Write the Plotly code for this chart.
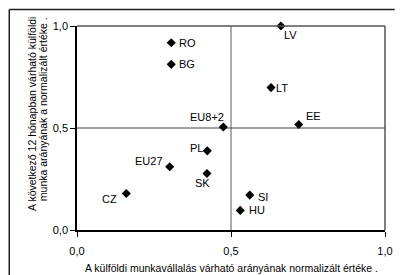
import plotly.graph_objects as go

countries = ["RO", "BG", "LV", "LT", "EE", "EU8+2", "PL", "SK", "EU27", "CZ", "SI", "HU"]
x_vals = [0.306, 0.306, 0.662, 0.630, 0.720, 0.475, 0.423, 0.422, 0.301, 0.160, 0.561, 0.530]
y_vals = [0.918, 0.812, 1.000, 0.698, 0.517, 0.505, 0.388, 0.277, 0.310, 0.179, 0.171, 0.096]
tick_vals = [0.0, 0.5, 1.0]
tick_text = ["0,0", "0,5", "1,0"]
x_title = "A külföldi munkavállalás várható arányának normalizált értéke ."
y_title_1 = "A következő 12 hónapban várható külföldi"
y_title_2 = "munka arányának a normalizált értéke ."

# label placement (style): anchor, x offset px, y offset px (down positive)
label_anchor = ["left", "left", "left", "left", "left", "center", "right", "center",
                "right", "right", "left", "left"]
label_dx = [8, 8, 3, 5, 7, -16, -4, -4, -7, -9, 8.5, 8.5]
label_dy = [0, 0, 8.5, 0, -9, -10, -2.5, 10, -6, 5.5, 1.5, 0]

W, H = 403, 275
L, R, T, B = 77, 10, 25.5, 45
pw, ph = W - L - R, H - T - B

def px_x(p):
    return (p - L) / pw

def px_y(p):
    return (H - B - p) / ph

FONT = "Liberation Sans, Arial, sans-serif"

fig = go.Figure()
fig.add_trace(go.Scatter(
    x=x_vals, y=y_vals, mode="markers",
    marker=dict(symbol="diamond", size=7, color="black"),
    cliponaxis=False, showlegend=False, hoverinfo="skip",
))

shapes = [
    dict(type="line", xref="x", yref="paper", x0=0.5, x1=0.5, y0=0, y1=1,
         line=dict(color="#909090", width=1.5), layer="below"),
    dict(type="line", xref="paper", yref="y", x0=0, x1=1, y0=0.5, y1=0.5,
         line=dict(color="#404040", width=1), layer="below"),
    dict(type="line", xref="paper", yref="paper", x0=0, x1=1, y0=1, y1=1,
         line=dict(color="#555555", width=1.5)),
    dict(type="line", xref="paper", yref="paper", x0=1, x1=1, y0=0, y1=1,
         line=dict(color="#555555", width=1.5)),
    # outer frame (top and left edges)
    dict(type="line", xref="paper", yref="paper", x0=px_x(7.5), x1=px_x(403),
         y0=px_y(9), y1=px_y(9), line=dict(color="#222222", width=1.5)),
    dict(type="line", xref="paper", yref="paper", x0=px_x(7.5), x1=px_x(7.5),
         y0=px_y(9), y1=px_y(275), line=dict(color="#222222", width=1.5)),
]

annotations = [
    dict(text=x_title, xref="paper", yref="paper", x=px_x(235), y=px_y(268),
         showarrow=False, font=dict(family=FONT, size=10.5, color="black"),
         xanchor="center", yanchor="middle"),
    dict(text=y_title_1, xref="paper", yref="paper", x=px_x(31), y=px_y(113.5),
         showarrow=False, textangle=-90, font=dict(family=FONT, size=10.5, color="black"),
         xanchor="center", yanchor="middle"),
    dict(text=y_title_2, xref="paper", yref="paper", x=px_x(41.5), y=px_y(108.5),
         showarrow=False, textangle=-90, font=dict(family=FONT, size=10.5, color="black"),
         xanchor="center", yanchor="middle"),
]
for name, xv, yv, anc, dx, dy in zip(countries, x_vals, y_vals, label_anchor, label_dx, label_dy):
    annotations.append(dict(
        text=name, x=xv, y=yv, xref="x", yref="y", showarrow=False,
        xanchor=anc, yanchor="middle", xshift=dx, yshift=-dy,
        borderpad=0, borderwidth=0,
        font=dict(family=FONT, size=11, color="black"),
    ))

axis_common = dict(
    range=[0, 1], tickvals=tick_vals, ticktext=tick_text, ticks="outside",
    ticklen=5, tickwidth=1, tickcolor="black", showline=True, linecolor="black",
    linewidth=1.5, showgrid=False, zeroline=False, mirror=False,
    tickfont=dict(family=FONT, size=11, color="black"),
)

fig.update_layout(
    width=W, height=H,
    margin=dict(l=L, r=R, t=T, b=B, pad=0),
    paper_bgcolor="white", plot_bgcolor="white",
    xaxis=dict(axis_common, ticklabelstandoff=5),
    yaxis=axis_common,
    shapes=shapes, annotations=annotations,
    font=dict(family=FONT),
)

fig.write_html(
    "out.html",
    config={"displayModeBar": False},
    post_script=("document.body.style.margin='0px';document.body.style.overflow='hidden';"
                 "document.documentElement.style.overflow='hidden';"),
)
